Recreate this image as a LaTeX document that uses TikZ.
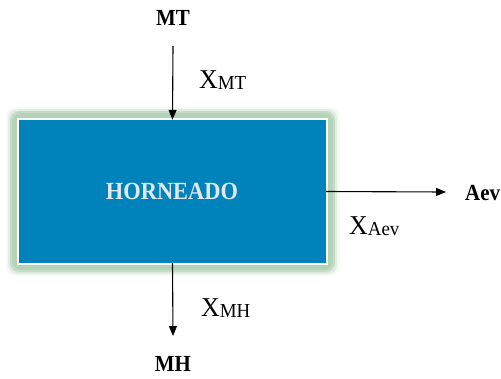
\documentclass[tikz,border=0pt]{standalone}
\usepackage{fontspec}
\setmainfont{Liberation Serif}
\usetikzlibrary{arrows.meta}
\definecolor{boxblue}{HTML}{0083BB}
\definecolor{glow}{HTML}{B3D2B6}
\definecolor{boxtext}{HTML}{E2E8EE}
\newcommand{\lbl}[1]{\scalebox{1}[1.1]{\fontsize{21}{24}\selectfont\bfseries #1}}
\newcommand{\xlab}[1]{\scalebox{1}[1.05]{\fontsize{26}{30}\selectfont X\fontsize{19}{22}\selectfont\raisebox{-0.06em}{#1}}}
\tikzset{
  flow/.style={draw=black, line width=1.1bp, -{Triangle[length=10bp,width=8bp]}},
  plain/.style={inner sep=0pt, anchor=center}
}
\begin{document}
\begin{tikzpicture}[x=1bp,y=-1bp]
\useasboundingbox (0,0) rectangle (501,378);
% glow
\foreach \d/\o in {12/0.12,10/0.3,8/0.6,6/0.9,4/1}{
  \fill[glow, opacity=\o, rounded corners=9bp] (18-\d,119-\d) rectangle (327+\d,264+\d);
}
\fill[white] (17,118) rectangle (328,265);
\node[fill=boxblue, minimum width=307bp, minimum height=143bp, inner sep=0pt, anchor=center] (box) at (172.5,191.5) {};
\node[plain, text=boxtext] (boxlabel) at (172,191) {\scalebox{1}[1.1]{\fontsize{22.5}{26}\selectfont\bfseries HORNEADO}};
% labels
\node[plain] (mt) at (173,18) {\lbl{MT}};
\node[plain] (mh) at (173,364) {\lbl{MH}};
\node[plain, anchor=west] (aev) at (465,193) {\lbl{Aev}};
\coordinate (mtstart) at (173,46);
\coordinate (mhend) at (173,336);
\coordinate (aevend) at (446,192);
\draw[flow] (mtstart) -- (box.north);
\draw[flow] (box.south) -- (mhend);
\draw[flow] (box.east) -- (aevend);
\node[plain, anchor=west] (xmt) at (199,80) {\xlab{MT}};
\node[plain, anchor=west] (xmh) at (201,308) {\xlab{MH}};
\node[plain, anchor=west] (xaev) at (349,226) {\xlab{Aev}};
\end{tikzpicture}
\end{document}
